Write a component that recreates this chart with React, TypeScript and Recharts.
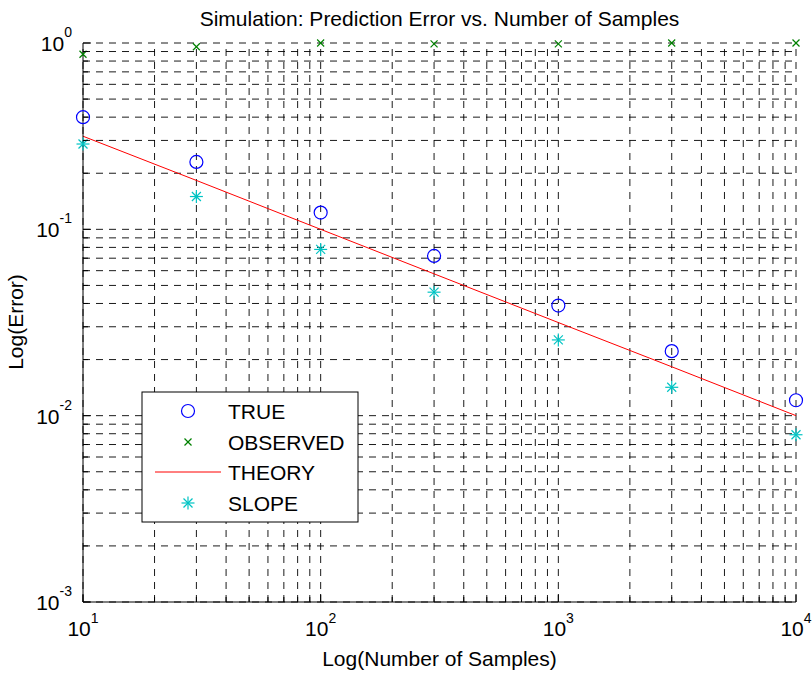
import React from "react";
import { ComposedChart, Line, Scatter, XAxis, YAxis, ReferenceLine } from "recharts";

// ---- data ----
const samples = [10, 30, 100, 300, 1000, 3000, 10000];
const trueError = [0.4, 0.23, 0.123, 0.072, 0.039, 0.0222, 0.0121];
const observedError = [0.87, 0.955, 1.0, 0.99, 0.99, 1.0, 1.0];
const theoryError = [0.316, 0.183, 0.1, 0.0577, 0.0316, 0.0183, 0.01];
const slopeError = [0.287, 0.15, 0.078, 0.046, 0.0255, 0.0142, 0.0079];

const seriesNames = ["TRUE", "OBSERVED", "THEORY", "SLOPE"];

const xMajorTicks = [10, 100, 1000, 10000];
const xMajorExponents = ["1", "2", "3", "4"];
const xMinorTicks = [
  20, 30, 40, 50, 60, 70, 80, 90,
  200, 300, 400, 500, 600, 700, 800, 900,
  2000, 3000, 4000, 5000, 6000, 7000, 8000, 9000,
];
const yMajorTicks = [0.001, 0.01, 0.1, 1];
const yMajorExponents = ["-3", "-2", "-1", "0"];
const yMinorTicks = [
  0.002, 0.003, 0.004, 0.005, 0.006, 0.007, 0.008, 0.009,
  0.02, 0.03, 0.04, 0.05, 0.06, 0.07, 0.08, 0.09,
  0.2, 0.3, 0.4, 0.5, 0.6, 0.7, 0.8, 0.9,
];

const allX = [...xMajorTicks, ...xMinorTicks].sort((a, b) => a - b);
const allY = [...yMajorTicks, ...yMinorTicks].sort((a, b) => a - b);

const toPoints = (ys: number[]) => samples.map((x, i) => ({ x, y: ys[i] }));
const trueData = toPoints(trueError);
const observedData = toPoints(observedError);
const theoryData = toPoints(theoryError);
const slopeData = toPoints(slopeError);

// ---- style ----
const FONT = "'Liberation Sans', Arial, Helvetica, sans-serif";
const FS = 21;
const EXP_FS = 14;
const W = 812;
const H = 673;
const MAJOR_LEN = 8;
const MINOR_LEN = 5;
const GRID_DASH = "7 6";
const GRID_COLOR = "#000";
const BLUE = "#0000ff";
const GREEN = "#008000";
const RED = "#ff0000";
const CYAN = "#00c4c4";

const isMajorX = (v: number) => xMajorTicks.indexOf(v) >= 0;
const isMajorY = (v: number) => yMajorTicks.indexOf(v) >= 0;

const BottomTick = (p: any) => {
  const v = p.payload.value;
  const major = isMajorX(v);
  const idx = xMajorTicks.indexOf(v);
  return (
    <g>
      <line x1={p.x} x2={p.x} y1={p.y} y2={p.y - (major ? MAJOR_LEN : MINOR_LEN)} stroke="#000" strokeWidth={1} />
      {major && (
        <text x={p.x} y={p.y + 34} textAnchor="middle" fontFamily={FONT} fontSize={FS} fill="#000">
          <tspan>10</tspan>
          <tspan dy={-13} fontSize={EXP_FS}>{xMajorExponents[idx]}</tspan>
        </text>
      )}
    </g>
  );
};

const TopTick = (p: any) => {
  const v = p.payload.value;
  const major = isMajorX(v);
  return <line x1={p.x} x2={p.x} y1={p.y} y2={p.y + (major ? MAJOR_LEN : MINOR_LEN)} stroke="#000" strokeWidth={1} />;
};

const LeftTick = (p: any) => {
  const v = p.payload.value;
  const major = isMajorY(v);
  const idx = yMajorTicks.indexOf(v);
  return (
    <g>
      <line x1={p.x} x2={p.x + (major ? MAJOR_LEN : MINOR_LEN)} y1={p.y} y2={p.y} stroke="#000" strokeWidth={1} />
      {major && (
        <text x={p.x - 11} y={p.y + 8} textAnchor="end" fontFamily={FONT} fontSize={FS} fill="#000">
          <tspan>10</tspan>
          <tspan dy={-14} fontSize={EXP_FS}>{yMajorExponents[idx]}</tspan>
        </text>
      )}
    </g>
  );
};

const RightTick = (p: any) => {
  const v = p.payload.value;
  const major = isMajorY(v);
  return <line x1={p.x} x2={p.x - (major ? MAJOR_LEN : MINOR_LEN)} y1={p.y} y2={p.y} stroke="#000" strokeWidth={1} />;
};

const CircleMark = (p: any) => (
  <circle cx={p.cx} cy={p.cy} r={6.5} fill="none" stroke={BLUE} strokeWidth={1.2} />
);
const XMark = (p: any) => (
  <g stroke={GREEN} strokeWidth={1.2}>
    <line x1={p.cx - 3.5} y1={p.cy - 3.5} x2={p.cx + 3.5} y2={p.cy + 3.5} />
    <line x1={p.cx - 3.5} y1={p.cy + 3.5} x2={p.cx + 3.5} y2={p.cy - 3.5} />
  </g>
);
const StarMark = (p: any) => (
  <g stroke={CYAN} strokeWidth={1.2}>
    <line x1={p.cx - 6.5} y1={p.cy} x2={p.cx + 6.5} y2={p.cy} />
    <line x1={p.cx} y1={p.cy - 6.5} x2={p.cx} y2={p.cy + 6.5} />
    <line x1={p.cx - 4.5} y1={p.cy - 4.5} x2={p.cx + 4.5} y2={p.cy + 4.5} />
    <line x1={p.cx - 4.5} y1={p.cy + 4.5} x2={p.cx + 4.5} y2={p.cy - 4.5} />
  </g>
);

export default function App() {
  // legend geometry (page coords)
  const lx = 142, ly = 392, lw = 216, lh = 130;
  const rowY = [411, 442, 472, 503];
  const markX = 188;
  return (
    <div style={{ position: "absolute", left: 0, top: 0, width: W, height: H, overflow: "hidden", background: "#fff" }}>
      <ComposedChart width={W} height={H} margin={{ top: 43, right: 16, bottom: 0, left: 0 }}>
        <XAxis
          xAxisId="b" dataKey="x" type="number" scale="log" domain={[10, 10000]}
          ticks={allX} interval={0} tickSize={0} tickMargin={0} height={71}
          axisLine={{ stroke: "#000", strokeWidth: 1 }} tickLine={false} tick={BottomTick}
        />
        <XAxis
          xAxisId="t" orientation="top" dataKey="x" type="number" scale="log" domain={[10, 10000]}
          ticks={allX} interval={0} tickSize={0} tickMargin={0} height={0}
          axisLine={{ stroke: "#000", strokeWidth: 1 }} tickLine={false} tick={TopTick}
        />
        <YAxis
          yAxisId="l" dataKey="y" type="number" scale="log" domain={[0.001, 1]}
          ticks={allY} interval={0} tickSize={0} tickMargin={0} width={83}
          axisLine={{ stroke: "#000", strokeWidth: 1 }} tickLine={false} tick={LeftTick}
        />
        <YAxis
          yAxisId="r" orientation="right" dataKey="y" type="number" scale="log" domain={[0.001, 1]}
          ticks={allY} interval={0} tickSize={0} tickMargin={0} width={0}
          axisLine={{ stroke: "#000", strokeWidth: 1 }} tickLine={false} tick={RightTick}
        />
        {allX.map((v) => (
          <ReferenceLine key={"gx" + v} xAxisId="b" yAxisId="l" x={v} stroke={GRID_COLOR} strokeWidth={0.9} strokeDasharray={GRID_DASH} />
        ))}
        {allY.map((v) => (
          <ReferenceLine key={"gy" + v} xAxisId="b" yAxisId="l" y={v} stroke={GRID_COLOR} strokeWidth={0.9} strokeDasharray={GRID_DASH} />
        ))}
        <Line
          xAxisId="b" yAxisId="l" data={theoryData} dataKey="y" name={seriesNames[2]}
          stroke={RED} strokeWidth={1} dot={false} isAnimationActive={false} type="linear"
        />
        <Scatter xAxisId="b" yAxisId="l" data={trueData} dataKey="y" name={seriesNames[0]} shape={CircleMark} isAnimationActive={false} />
        <Scatter xAxisId="b" yAxisId="l" data={observedData} dataKey="y" name={seriesNames[1]} shape={XMark} isAnimationActive={false} />
        <Scatter xAxisId="b" yAxisId="l" data={slopeData} dataKey="y" name={seriesNames[3]} shape={StarMark} isAnimationActive={false} />
      </ComposedChart>
      <svg width={W} height={H} style={{ position: "absolute", left: 0, top: 0, pointerEvents: "none" }}>
        <text x={439.5} y={26} textAnchor="middle" fontFamily={FONT} fontSize={FS} fill="#000">
          Simulation: Prediction Error vs. Number of Samples
        </text>
        <text x={439.5} y={666} textAnchor="middle" fontFamily={FONT} fontSize={FS} fill="#000">
          Log(Number of Samples)
        </text>
        <text transform={`translate(23, 322) rotate(-90)`} textAnchor="middle" fontFamily={FONT} fontSize={FS} fill="#000">
          Log(Error)
        </text>
        <rect x={lx} y={ly} width={lw} height={lh} fill="#fff" stroke="#000" strokeWidth={1} />
        <circle cx={markX} cy={rowY[0]} r={6.5} fill="none" stroke={BLUE} strokeWidth={1.2} />
        <g stroke={GREEN} strokeWidth={1.2}>
          <line x1={markX - 3.5} y1={rowY[1] - 3.5} x2={markX + 3.5} y2={rowY[1] + 3.5} />
          <line x1={markX - 3.5} y1={rowY[1] + 3.5} x2={markX + 3.5} y2={rowY[1] - 3.5} />
        </g>
        <line x1={155} x2={221} y1={rowY[2]} y2={rowY[2]} stroke={RED} strokeWidth={1} />
        <g stroke={CYAN} strokeWidth={1.2}>
          <line x1={markX - 6.5} y1={rowY[3]} x2={markX + 6.5} y2={rowY[3]} />
          <line x1={markX} y1={rowY[3] - 6.5} x2={markX} y2={rowY[3] + 6.5} />
          <line x1={markX - 4.5} y1={rowY[3] - 4.5} x2={markX + 4.5} y2={rowY[3] + 4.5} />
          <line x1={markX - 4.5} y1={rowY[3] + 4.5} x2={markX + 4.5} y2={rowY[3] - 4.5} />
        </g>
        {seriesNames.map((n, i) => (
          <text key={n} x={228} y={rowY[i] + 7.5} fontFamily={FONT} fontSize={FS} fill="#000">{n}</text>
        ))}
      </svg>
    </div>
  );
}
